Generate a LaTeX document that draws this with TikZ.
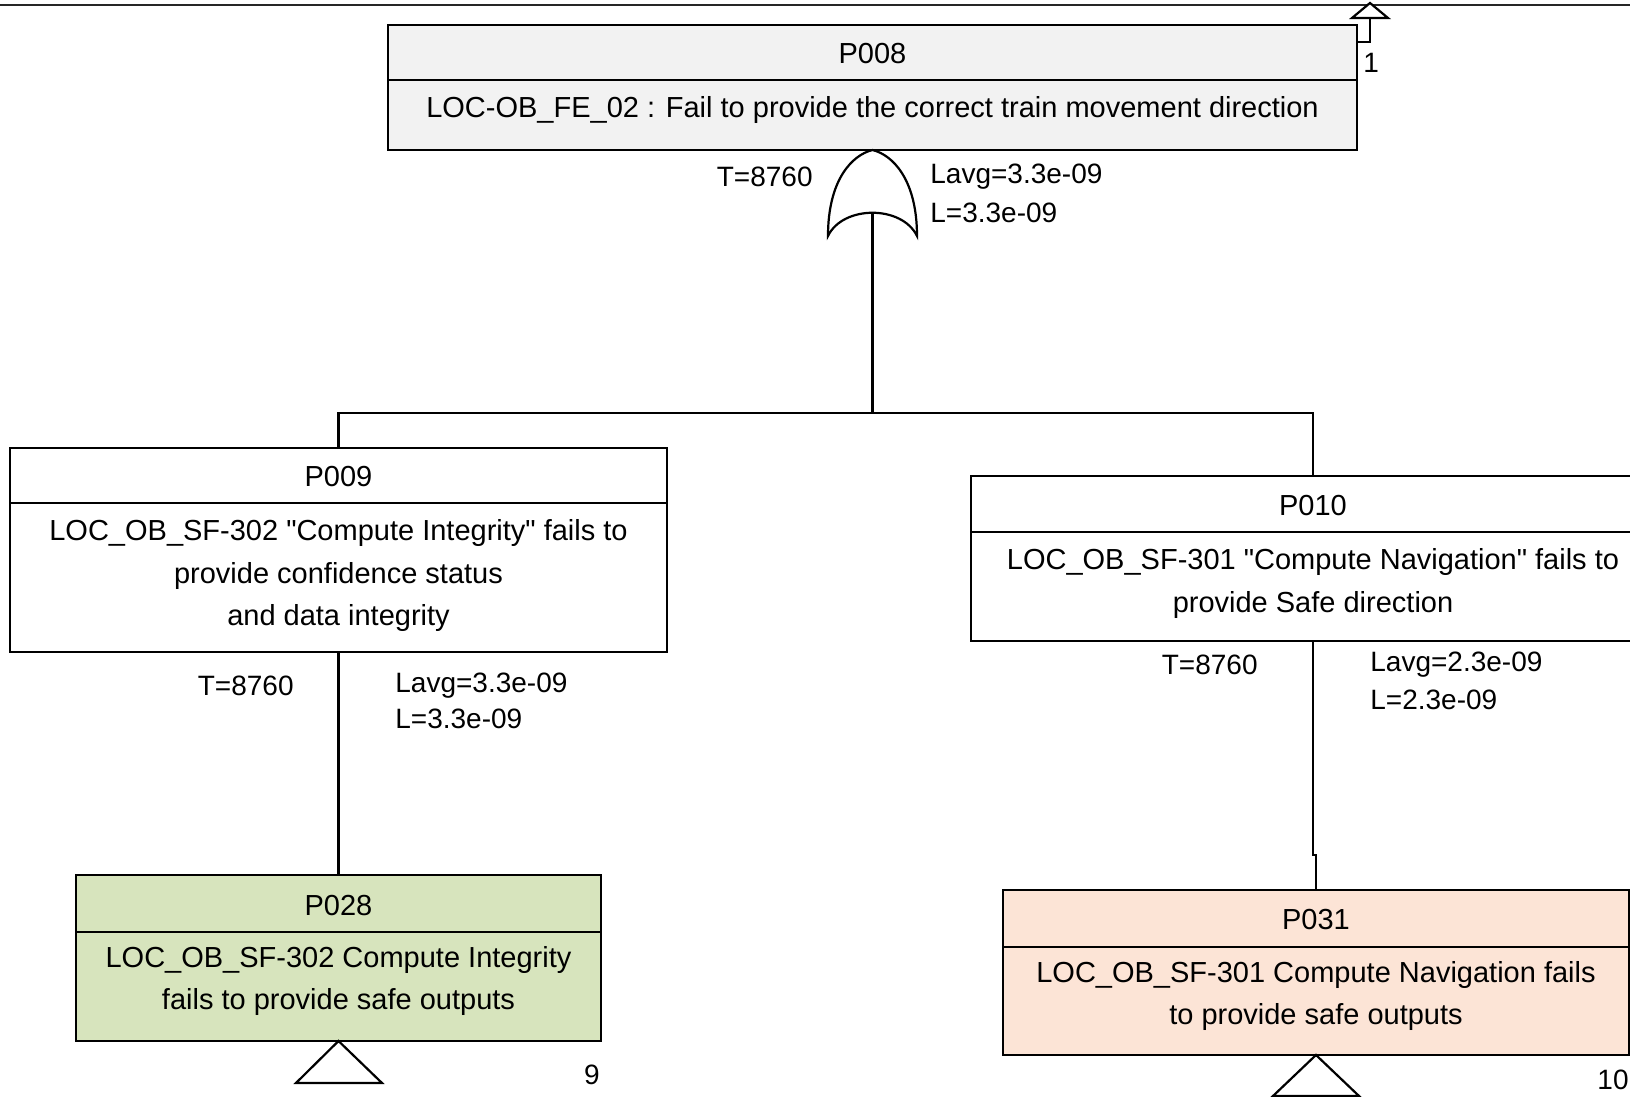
\documentclass[tikz,border=0pt]{standalone}
\usepackage{fontspec}
\setmainfont{Liberation Sans}[Ligatures=TeXOff]
\usetikzlibrary{calc}
\definecolor{topfill}{HTML}{F2F2F2}
\definecolor{greenfill}{HTML}{D7E4BD}
\definecolor{peachfill}{HTML}{FCE4D6}
\begin{document}
\begin{tikzpicture}[x=0.5pt,y=-0.5pt,
  evbox/.style={draw=black, line width=1.1pt, inner sep=0pt, outer sep=0pt, rectangle},
  conn/.style={draw=black, line width=1.1pt},
  lbl/.style={inner sep=0pt, font=\fontsize{14pt}{16pt}\selectfont},
  boxtxt/.style={inner sep=0pt, font=\fontsize{14.5pt}{17pt}\selectfont},
  every node/.append style={text=black}]
\useasboundingbox (0,0) rectangle (1630,1097);
\clip (0,0) rectangle (1630,1097);
\fill[white] (0,0) rectangle (1630,1097);

% page border line at the top
\draw[line width=1.4pt, black!85] (0,5) -- (1630,5);

% ---------- top event P008 ----------
\node[evbox, fill=topfill, minimum width=484.5pt, minimum height=62.5pt] (p008) at (872.5,87.5) {};
\draw[conn] (p008.west |- 0,80) -- (p008.east |- 0,80);
\node[boxtxt] (p008t) at (872.5,54) {P008};
\node[boxtxt] (p008d) at (872.5,110) {LOC-OB\_FE\_02 : Fail to provide the correct train movement direction};

% transfer-out triangle and its reference number
\coordinate (tout) at (1370,18);
\draw[conn, fill=white] (1370,3) -- (1388,18) -- (1352,18) -- cycle;
\draw[conn] (tout) -- (1370,42) -- (p008.north east |- 0,42);
\node[lbl, anchor=west] (ref1) at (1363,63) {1};

% ---------- OR gate ----------
\coordinate (gatetop) at (872.5,150);
\coordinate (gatein) at (872.5,213);
\draw[conn, fill=white] (828,236) .. controls (828,180) and (852,155) .. (gatetop)
  .. controls (893,155) and (917,180) .. (917,236)
  .. controls (902,205) and (843,205) .. (828,236) -- cycle;
\node[lbl, anchor=east] (g1t) at (813,177) {T=8760};
\node[lbl, anchor=west] (g1a) at (930,177) {Lavg=3.3e-09};
\node[lbl, anchor=west] (g1l) at (930,213) {L=3.3e-09};

% ---------- intermediate events ----------
\node[evbox, fill=white, minimum width=328.5pt, minimum height=102pt] (p009) at (338.5,550) {};
\draw[conn] (p009.west |- 0,503) -- (p009.east |- 0,503);
\node[boxtxt] (p009t) at (338.5,477) {P009};
\node[boxtxt] (p009d1) at (338.5,533) {LOC\_OB\_SF-302 "Compute Integrity" fails to};
\node[boxtxt] (p009d2) at (338.5,576) {provide confidence status};
\node[boxtxt] (p009d3) at (338.5,618) {and data integrity};

\node[evbox, fill=white, minimum width=342pt, minimum height=82.5pt] (p010) at (1313,558.5) {};
\draw[conn] (p010.west |- 0,532) -- (p010.east |- 0,532);
\node[boxtxt] (p010t) at (1313,506) {P010};
\node[boxtxt] (p010d1) at (1313,562) {LOC\_OB\_SF-301 "Compute Navigation" fails to};
\node[boxtxt] (p010d2) at (1313,605) {provide Safe direction};

% gate output to both branches
\coordinate (bar) at (872.5,413);
\draw[conn] (gatein) -- (bar);
\draw[conn] (p009.north) |- (bar) -| (p010.north);

% ---------- basic (transferred) events ----------
\node[evbox, fill=greenfill, minimum width=262.5pt, minimum height=83pt] (p028) at (338.5,958) {};
\draw[conn] (p028.west |- 0,932) -- (p028.east |- 0,932);
\node[boxtxt] (p028t) at (338.5,906) {P028};
\node[boxtxt] (p028d1) at (338.5,960) {LOC\_OB\_SF-302 Compute Integrity};
\node[boxtxt] (p028d2) at (338.5,1002) {fails to provide safe outputs};

\node[evbox, fill=peachfill, minimum width=313pt, minimum height=82.5pt] (p031) at (1316,972.5) {};
\draw[conn] (p031.west |- 0,947) -- (p031.east |- 0,947);
\node[boxtxt] (p031t) at (1316,920) {P031};
\node[boxtxt] (p031d1) at (1316,975) {LOC\_OB\_SF-301 Compute Navigation fails};
\node[boxtxt] (p031d2) at (1316,1017) {to provide safe outputs};

% P009 branch
\draw[conn] (p009.south) -- (p028.north);
\node[lbl, anchor=east] (g2t) at (294,686) {T=8760};
\node[lbl, anchor=west] (g2a) at (395,686) {Lavg=3.3e-09};
\node[lbl, anchor=west] (g2l) at (395,719) {L=3.3e-09};

% P010 branch
\coordinate (jog) at (1313,855);
\draw[conn] (p010.south) -- (jog) -| (p031.north);
\node[lbl, anchor=east] (g3t) at (1258,665) {T=8760};
\node[lbl, anchor=west] (g3a) at (1370,665) {Lavg=2.3e-09};
\node[lbl, anchor=west] (g3l) at (1370,700) {L=2.3e-09};

% transfer-in triangles with reference numbers
\draw[conn, fill=white] (p028.south) -- (382,1083) -- (296,1083) -- cycle;
\node[lbl, anchor=east] (ref9) at (600,1075) {9};
\draw[conn, fill=white] (p031.south) -- (1359,1096) -- (1273,1096) -- cycle;
\node[lbl, anchor=east] (ref10) at (1629,1080) {10};
\end{tikzpicture}
\end{document}
